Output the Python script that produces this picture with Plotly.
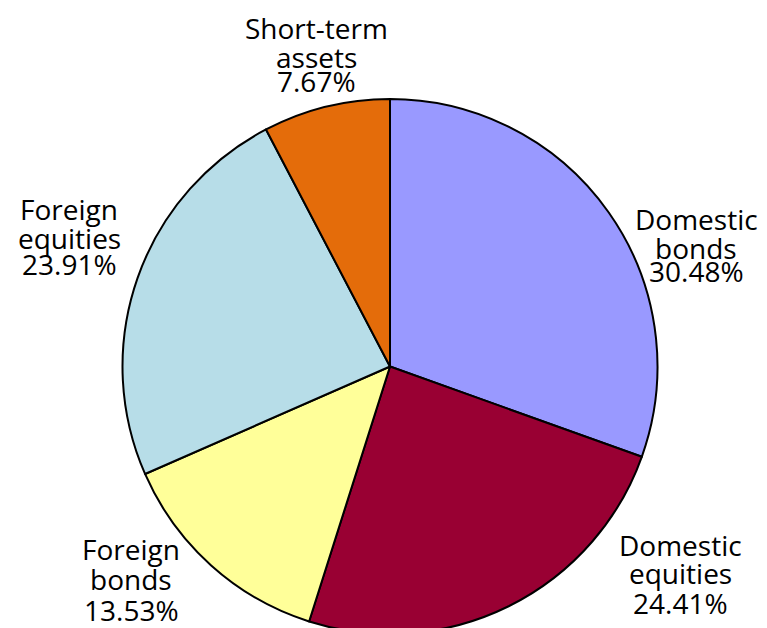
import plotly.graph_objects as go

categories = ["Domestic bonds", "Domestic equities", "Foreign bonds", "Foreign equities", "Short-term assets"]
values = [30.48, 24.41, 13.53, 23.91, 7.67]
label_lines = [["Domestic", "bonds"], ["Domestic", "equities"], ["Foreign", "bonds"],
               ["Foreign", "equities"], ["Short-term", "assets"]]
colors = ["#9999FF", "#990033", "#FFFF99", "#B7DDE8", "#E46C0A"]

W, H = 767, 640
ML, MR, MT, MB = 122, 109, 99, 6
PW, PH = W - ML - MR, H - MT - MB
# label line centers (pixels): x center, y per line
label_pos = [
    (696, [219, 248, 271]),
    (680, [545, 573, 603]),
    (131, [549, 579, 610]),
    (69, [209, 238, 264]),
    (316, [28, 57, 81]),
]

fig = go.Figure(go.Pie(
    labels=categories, values=values, sort=False, direction="clockwise", rotation=0,
    marker=dict(colors=colors, line=dict(color="black", width=2)),
    textinfo="none", hoverinfo="label+percent", showlegend=False,
    domain=dict(x=[0, 1], y=[0, 1]),
))

annotations = []
for (cx, ys), lines, v in zip(label_pos, label_lines, values):
    texts = lines + [f"{v:.2f}%"]
    for t, y in zip(texts, ys):
        annotations.append(dict(
            x=(cx - ML) / PW, y=1 - (y - MT) / PH, xref="paper", yref="paper", text=t,
            showarrow=False, xanchor="center", yanchor="middle",
            font=dict(family="Open Sans", size=28, color="black"),
        ))

fig.update_layout(
    width=W, height=H,
    margin=dict(l=ML, r=MR, t=MT, b=MB),
    paper_bgcolor="white", plot_bgcolor="white",
    annotations=annotations,
)

fig.write_html("out.html", config={"displayModeBar": False},
               post_script="document.body.style.margin='0';document.body.style.overflow='hidden';")
